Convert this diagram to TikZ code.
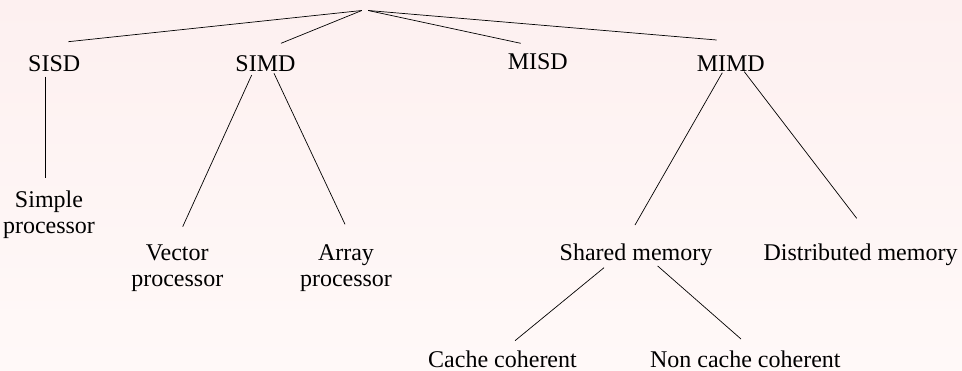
\documentclass[tikz,border=0pt]{standalone}
\usepackage{fontspec}
\setmainfont{Liberation Serif}
\definecolor{bgtop}{RGB}{253,240,240}
\definecolor{bgbottom}{RGB}{255,249,248}
\begin{document}
\begin{tikzpicture}[
  x=1pt, y=-1pt,
  every node/.style={font=\fontsize{24}{26}\selectfont, inner sep=0pt, anchor=base, align=center},
  edge/.style={draw=black, line width=0.7pt}
]
\shade[top color=bgtop, bottom color=bgbottom] (0,0) rectangle (962,370);
\useasboundingbox (0,0) rectangle (962,370);
% nodes (base = last line)
\node[minimum width=6pt, anchor=center] (root) at (365,10.5) {};
\node (sisd) at (54.2,71.5) {SISD};
\node (simd) at (265.5,71.7) {SIMD};
\node (misd) at (537.8,69.3) {MISD};
\node (mimd) at (730.8,71) {MIMD};
\node (simple) at (49,233.3) {Simple\\processor};
\node (vector) at (177.3,286.7) {Vector\\processor};
\node (array) at (346,286.7) {Array\\processor};
\node (shared) at (636,260) {Shared memory};
\node (distributed) at (860.5,260) {Distributed memory};
\node (cache) at (502.5,367.3) {Cache coherent};
\node (noncache) at (745.3,367.3) {Non cache coherent};
% connectors
\draw[edge] (root.west) -- ([shift={(14.1,-29.8)}]sisd.base);
\draw[edge] (root.west) -- ([shift={(15.5,-28.4)}]simd.base);
\draw[edge] (root.east) -- ([shift={(-17.1,-26)}]misd.base);
\draw[edge] (root.east) -- ([shift={(-14.1,-31)}]mimd.base);
\draw[edge] ([shift={(-8.5,5.2)}]sisd.base) -- ([shift={(-3.3,-55)}]simple.base);
\draw[edge] ([shift={(-13.8,3.3)}]simd.base) -- ([shift={(5.4,-60)}]vector.base);
\draw[edge] ([shift={(8.5,1.6)}]simd.base) -- ([shift={(-1,-62.4)}]array.base);
\draw[edge] ([shift={(-8.5,1.7)}]mimd.base) -- ([shift={(-1,-35)}]shared.base);
\draw[edge] ([shift={(13.5,0.7)}]mimd.base) -- ([shift={(-3.8,-41.7)}]distributed.base);
\draw[edge] ([shift={(-32,7.7)}]shared.base) -- ([shift={(12.5,-26.6)}]cache.base);
\draw[edge] ([shift={(21.7,6)}]shared.base) -- ([shift={(-4.3,-28.3)}]noncache.base);
\end{tikzpicture}
\end{document}
